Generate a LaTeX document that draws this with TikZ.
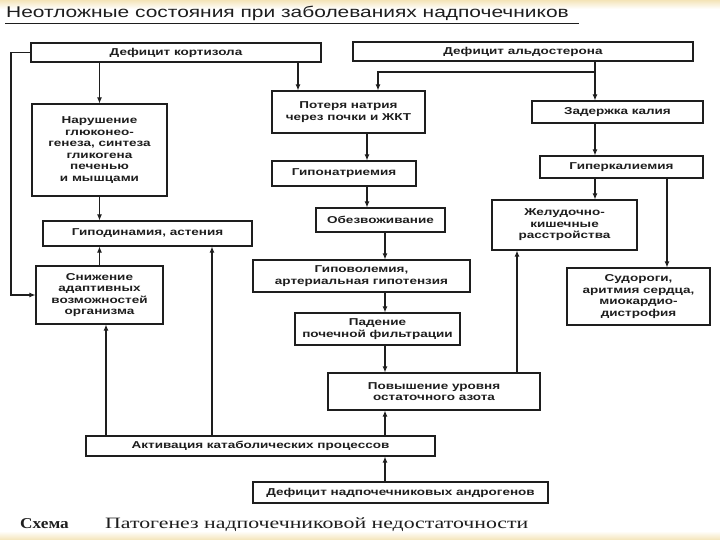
\documentclass[tikz,border=0pt]{standalone}
\usepackage{fontspec}
\setmainfont{Liberation Sans}[FakeStretch=1.35]
\newfontfamily\capfont{Liberation Serif}[FakeStretch=1.38]
\newfontfamily\capbfont{Liberation Serif}[FakeStretch=1.15]
\usetikzlibrary{arrows.meta,calc}
\definecolor{ink}{HTML}{1E1E1E}
\definecolor{band}{HTML}{F4E4B8}
\newcommand\bxnode[6]{\node[box, minimum width={(#4-#2)*1pt}, minimum height={(#5-#3)*1pt}] (#1) at ({(#2+#4)/2},{(#3+#5)/2}) {#6};}
\begin{document}
\begin{tikzpicture}[x=1pt,y=-1pt,
  box/.style={draw=ink, line width=1.1pt, inner sep=1pt, align=center, text=ink,
    font=\fontsize{10}{11.5}\selectfont\bfseries},
  arr/.style={draw=ink, line width=1.1pt, -{Latex[length=6pt,width=5pt]}},
  ln/.style={draw=ink, line width=1.1pt}]
\useasboundingbox (0,0) rectangle (720,540);
\fill[white] (0,0) rectangle (720,540);
\shade[top color=band, bottom color=white] (0,0) rectangle (720,9);
\shade[top color=white, bottom color=band] (0,531) rectangle (720,540);

% title
\node[anchor=base west, inner sep=0, text=ink, font=\fontsize{15.5}{18}\selectfont] (title) at (6,18) {Неотложные состояния при заболеваниях надпочечников};
\draw[ln, line width=1pt] ([xshift=-1pt,yshift=-6pt]title.base west) -- ([xshift=10pt,yshift=-6pt]title.base east);

% boxes
\bxnode{cort}{31}{43}{321}{62}{Дефицит кортизола}
\bxnode{aldo}{353}{42}{693}{61}{Дефицит альдостерона}
\bxnode{narush}{32}{104}{167}{196}{Нарушение\\глюконео-\\генеза, синтеза\\гликогена\\печенью\\и мышцами}
\bxnode{poter}{272}{91}{425}{133}{Потеря натрия\\через почки и ЖКТ}
\bxnode{zader}{532}{101}{703}{123}{Задержка калия}
\bxnode{hyperK}{540}{156}{703}{178}{Гиперкалиемия}
\bxnode{gipoNa}{272}{161}{416}{186}{Гипонатриемия}
\bxnode{gipodin}{43}{221}{252}{246}{Гиподинамия, астения}
\bxnode{obezv}{316}{208}{445}{232}{Обезвоживание}
\bxnode{zhel}{492}{200}{637}{250}{Желудочно-\\кишечные\\расстройства}
\bxnode{gipovol}{253}{260}{470}{292}{Гиповолемия,\\артериальная гипотензия}
\bxnode{snizh}{36}{266}{163}{324}{Снижение\\адаптивных\\возможностей\\организма}
\bxnode{sudor}{567}{268}{710}{325}{Судороги,\\аритмия сердца,\\миокардио-\\дистрофия}
\bxnode{paden}{295}{313}{460}{345}{Падение\\почечной фильтрации}
\bxnode{povysh}{328}{373}{540}{410}{Повышение уровня\\остаточного азота}
\bxnode{aktiv}{86}{436}{435}{456}{Активация катаболических процессов}
\bxnode{androg}{253}{482}{548}{503}{Дефицит надпочечниковых андрогенов}

% column coordinates
\coordinate (xL) at (11,0);
\coordinate (xa) at (298,0);
\coordinate (xb) at (595,0);
\coordinate (xc) at (378,0);
\coordinate (x106) at (106,0);
\coordinate (x212) at (212,0);
\coordinate (x367) at (367,0);
\coordinate (x385) at (385,0);
\coordinate (x517) at (517,0);
\coordinate (x667) at (667,0);
\coordinate (br) at (595,72);

% connectors
\draw[arr] (cort.west) -- (cort.west -| xL) |- (snizh.west);
\draw[arr] (cort.south -| narush.north) -- (narush.north);
\draw[arr] (cort.south -| xa) -- (poter.north -| xa);
\draw[arr] (aldo.south -| xb) -- (zader.north -| xb);
\draw[arr] (br) -| (poter.north -| xc);
\draw[arr] (narush.south) -- (gipodin.north -| narush.south);
\draw[arr] (snizh.north) -- (gipodin.south -| snizh.north);
\draw[arr] (aktiv.north -| x212) -- (gipodin.south -| x212);
\draw[arr] (aktiv.north -| x106) -- (snizh.south -| x106);
\draw[arr] (poter.south -| x367) -- (gipoNa.north -| x367);
\draw[arr] (gipoNa.south -| x367) -- (obezv.north -| x367);
\draw[arr] (obezv.south -| x385) -- (gipovol.north -| x385);
\draw[arr] (gipovol.south -| x385) -- (paden.north -| x385);
\draw[arr] (paden.south -| x385) -- (povysh.north -| x385);
\draw[arr] (aktiv.north -| x385) -- (povysh.south -| x385);
\draw[arr] (androg.north -| x385) -- (aktiv.south -| x385);
\draw[arr] (povysh.north -| x517) -- (zhel.south -| x517);
\draw[arr] (zader.south -| xb) -- (hyperK.north -| xb);
\draw[arr] (hyperK.south -| xb) -- (zhel.north -| xb);
\draw[arr] (hyperK.south -| x667) -- (sudor.north -| x667);

% caption
\node[anchor=base west, inner sep=0, text=ink, font=\capbfont\fontsize{15}{18}\selectfont\bfseries] (capA) at (20,528) {Схема};
\node[anchor=base west, inner sep=0, text=ink, font=\capfont\fontsize{15.8}{18}\selectfont] (capB) at (105,528) {Патогенез надпочечниковой недостаточности};
\end{tikzpicture}
\end{document}
